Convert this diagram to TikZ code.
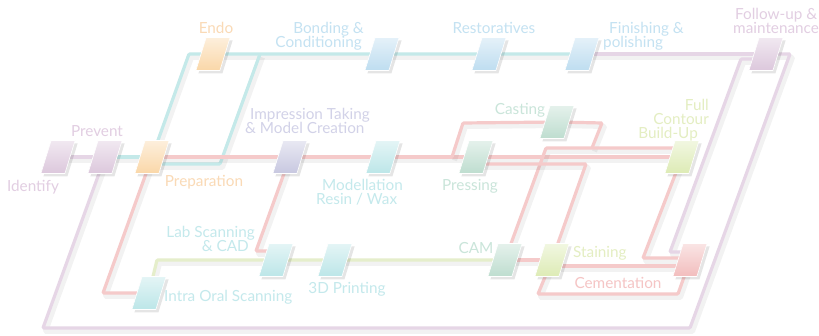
\documentclass[tikz,border=0pt]{standalone}
\usepackage{fontspec}
\setmainfont{Lato}
\usetikzlibrary{shadows,calc}
\pgfdeclarelayer{bg}
\pgfsetlayers{bg,main}
\newcommand\myLabFont{\fontsize{15.3}{14}\selectfont\lineskiplimit=-20pt\relax}
% line colours
\definecolor{lP}{HTML}{E6D6E6}
\definecolor{lC}{HTML}{C4E9E9}
\definecolor{lR}{HTML}{F5CACA}
\definecolor{lY}{HTML}{E5EECB}
% box colours
\definecolor{bP}{HTML}{DCC8DC}
\definecolor{bO}{HTML}{FAD7A8}
\definecolor{bB}{HTML}{BEDDF0}
\definecolor{bI}{HTML}{C8C8E0}
\definecolor{bC}{HTML}{BCE6E8}
\definecolor{bG}{HTML}{BEDDCF}
\definecolor{bY}{HTML}{DDEBB5}
\definecolor{bR}{HTML}{F2BDBD}
% text colours
\definecolor{tP}{HTML}{E2CEE2}
\definecolor{tO}{HTML}{FADAB6}
\definecolor{tB}{HTML}{C4E2F2}
\definecolor{tI}{HTML}{D2D2E8}
\definecolor{tC}{HTML}{C4E9EC}
\definecolor{tG}{HTML}{CAE5DA}
\definecolor{tY}{HTML}{E4EEC2}
\definecolor{tR}{HTML}{F5C5C5}
\tikzset{
  pb/.style={xslant=0.31, minimum width=24pt, minimum height=33pt, inner sep=0pt, outer sep=0pt,
    draw=white, line width=0.6pt, top color=#1!40!white, bottom color=#1,
    drop shadow={shadow xshift=2.5pt, shadow yshift=-3pt, opacity=0.10, fill=black}},
  ln/.style={line width=3.2pt, draw=#1, rounded corners=1pt,
    preaction={draw=black, draw opacity=0.05, line width=5pt, transform canvas={xshift=2.5pt,yshift=-3.5pt}}},
  lab/.style={font=\myLabFont, inner sep=0pt},
}
\begin{document}
\begin{tikzpicture}[x=1pt,y=-1pt]
\begin{pgfonlayer}{bg}
\fill[white] (0,0) rectangle (819,336);
\end{pgfonlayer}
\useasboundingbox (0,0) rectangle (819,336);
% boxes
\node[pb=bP] (id) at (58,157) {};
\node[pb=bP] (prev) at (105,157) {};
\node[pb=bO] (prep) at (152,157) {};
\node[pb=bO] (endo) at (213,54) {};
\node[pb=bB] (bond) at (382,54) {};
\node[pb=bB] (rest) at (489,54) {};
\node[pb=bB] (fin) at (582,54) {};
\node[pb=bP] (foll) at (766,54) {};
\node[pb=bI] (imp) at (290,157) {};
\node[pb=bC] (mod) at (383,157) {};
\node[pb=bG] (press) at (476,157) {};
\node[pb=bG] (cast) at (557,122) {};
\node[pb=bY] (full) at (682,157) {};
\node[pb=bC] (lab) at (276,260) {};
\node[pb=bC] (print) at (335,260) {};
\node[pb=bC] (intra) at (149,293) {};
\node[pb=bG] (cam) at (505,260) {};
\node[pb=bY] (stain) at (552,260) {};
\node[pb=bR] (cem) at (690,260) {};
% corner points
\coordinate (p1) at (43,328);
\coordinate (p2) at (690,328);
\coordinate (p3) at (790,54);
\coordinate (p4) at (741,59);
\coordinate (p5) at (670,252);
\coordinate (c1) at (189,54);
\coordinate (c2) at (220,164);
\coordinate (c3) at (260,54);
\coordinate (r1) at (452,157);
\coordinate (r2) at (463,123);
\coordinate (r3) at (602,123);
\coordinate (r4) at (592,148);
\coordinate (r5) at (546,148);
\coordinate (r6) at (586,164);
\coordinate (r7) at (103,293);
\coordinate (r8) at (256,251);
\coordinate (r9) at (538,294);
\coordinate (r10) at (678,294);
\coordinate (r11) at (643,258);
\coordinate (g1) at (157,260);
\begin{pgfonlayer}{bg}
% purple
\draw[ln=lP] (id.center) -- (prev.center);
\draw[ln=lP] (prev.center) -- (p1) -- (p2) -- (p3) -- (foll.center);
\draw[ln=lP] (fin.center) -- (foll.center);
\draw[ln=lP] ($(foll.center)+(0,5)$) -- (p4) -- (p5) -- ($(cem.center)+(0,-8)$);
% cyan
\draw[ln=lC] (prev.center) -- (prep.center);
\draw[ln=lC] (prep.center) -- (c1) -- (endo.center) -- (fin.center);
\draw[ln=lC] ($(prep.center)+(0,7)$) -- (c2) -- (c3);
% red
\draw[ln=lR] (prep.center) -- (full.center);
\draw[ln=lR] (r1) -- (r2) -- (cast.center) -- (r3) -- (r4);
\draw[ln=lR] (cam.center) -- (r5) -- ($(full.center)+(0,-9)$);
\draw[ln=lR] ($(press.center)+(0,7)$) -- (r6) -- (stain.center);
\draw[ln=lR] (cam.center) -- (stain.center);
\draw[ln=lR] (prep.center) -- (r7) -- (intra.center);
\draw[ln=lR] (imp.center) -- (r8) -- ($(lab.center)+(0,-9)$);
\draw[ln=lR] ($(stain.center)+(0,6)$) -- ($(cem.center)+(0,6)$);
\draw[ln=lR] (stain.center) -- (r9) -- (r10) -- (cem.center);
\draw[ln=lR] (full.center) -- (r11) -- ($(cem.center)+(0,-2)$);
% yellow-green
\draw[ln=lY] (intra.center) -- (g1) -- (cam.center);
\end{pgfonlayer}
% labels
\node[lab, text=tP, anchor=mid] (tid) at (33,189) {Identify};
\node[lab, text=tP, anchor=mid] (tprev) at (97,134) {Prevent};
\node[lab, text=tO, anchor=mid] (tprep) at (204,184) {Preparation};
\node[lab, text=tO, anchor=mid] (tendo) at (216,31) {Endo};
\node[lab, text=tB, align=right, anchor=north east] (tbond) at (364,22) {Bonding \&\\Conditioning\hspace*{2pt}};
\node[lab, text=tB, anchor=mid] (trest) at (494,31) {Restoratives};
\node[lab, text=tB, align=left, anchor=north west] (tfin) at (603,22) {\hspace*{6pt}Finishing \&\\polishing};
\node[lab, text=tP, align=left, anchor=north west] (tfoll) at (733,8) {\hspace*{2pt}Follow-up \&\\maintenance};
\node[lab, text=tI, align=left, anchor=north west] (timp) at (245,108) {\hspace*{5pt}Impression Taking\\\& Model Creation};
\node[lab, text=tC, align=left, anchor=north west] (tmod) at (316,179) {\hspace*{6pt}Modellation\\Resin / Wax};
\node[lab, text=tG, anchor=mid] (tpress) at (470,188) {Pressing};
\node[lab, text=tG, anchor=mid] (tcast) at (520,112) {Casting};
\node[lab, text=tY, align=right, anchor=north east] (tfull) at (709,99) {Full\\Contour\hspace*{5pt}\\Build-Up\hspace*{11pt}};
\node[lab, text=tC, align=right, anchor=north east] (tlab) at (255,226) {Lab Scanning\\\& CAD\hspace*{6pt}};
\node[lab, text=tC, anchor=mid] (tprint) at (347,291) {3D Printing};
\node[lab, text=tC, anchor=mid west] (tintra) at (164,299) {Intra Oral Scanning};
\node[lab, text=tG, anchor=mid] (tcam) at (476,251) {CAM};
\node[lab, text=tY, anchor=mid west] (tstain) at (573,255) {Staining};
\node[lab, text=tR, anchor=mid] (tcem) at (618,286) {Cementation};
\end{tikzpicture}
\end{document}
